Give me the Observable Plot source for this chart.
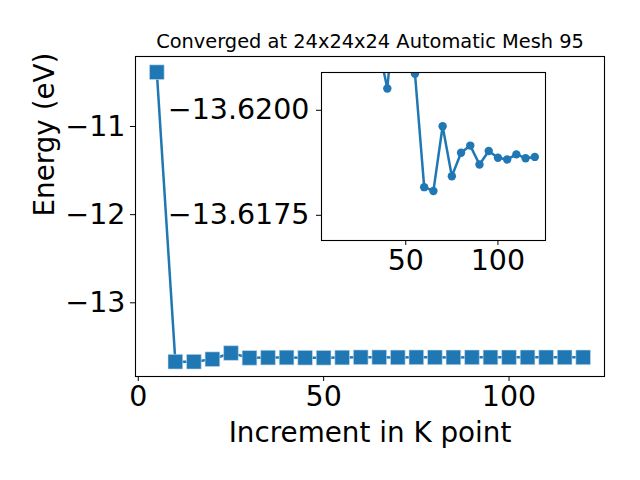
<!DOCTYPE html>
<html>
<head>
<meta charset="utf-8">
<script src="https://cdn.jsdelivr.net/npm/d3@7"></script>
<script src="https://cdn.jsdelivr.net/npm/@observablehq/plot@0.6"></script>
<style>
  html, body { margin: 0; padding: 0; background: white; }
  #chart { position: relative; width: 640px; height: 480px; }
  #chart svg { position: absolute; left: 0; top: 0; overflow: visible; }
</style>
</head>
<body>
<div id="chart"></div>
<script>
// ---- data ----
const titleText = "Converged at 24x24x24 Automatic Mesh 95";
const xLabel = "Increment in K point";
const yLabel = "Energy (eV)";
const kpoints = [5, 10, 15, 20, 25, 30, 35, 40, 45, 50, 55, 60, 65, 70, 75, 80, 85, 90, 95, 100, 105, 110, 115, 120];
const energy = [-10.384, -13.668, -13.668, -13.640, -13.570, -13.625, -13.62157, -13.62052, -13.6229, -13.6235,
  -13.62087, -13.61817, -13.61808, -13.61962, -13.61843, -13.61899, -13.61916, -13.61871, -13.61903,
  -13.61887, -13.61883, -13.61895, -13.61886, -13.61889];
const insetFirstIndex = 6; // inset shows the points from k = 35 onward
const xTicks = [0, 50, 100];
const yTicks = [-11, -12, -13];
const insetXTicks = [50, 100];
const insetYTicks = [-13.62, -13.6175];

const data = kpoints.map((k, i) => ({k, e: energy[i]}));
const insetData = data.slice(insetFirstIndex);

const blue = "#1f77b4";
const font = "DejaVu Sans, Verdana, sans-serif";
const tickFont = 28.5;

const main = Plot.plot({
  width: 640, height: 480,
  marginLeft: 135, marginRight: 36, marginTop: 56, marginBottom: 104,
  x: {domain: [-0.75, 125.75]},
  y: {domain: [-13.836, -10.206]},
  style: {fontFamily: font, fontSize: tickFont + "px", background: "transparent", color: "black"},
  marks: [
    Plot.line(data, {x: "k", y: "e", stroke: blue, strokeWidth: 2.5}),
    Plot.dot(data, {x: "k", y: "e", symbol: "square", r: 8.3, fill: blue, stroke: "#cfe0ef", strokeWidth: 0.6}),
    Plot.frame({stroke: "black", strokeWidth: 1.1}),
    Plot.axisX({ticks: xTicks, tickSize: 5, tickPadding: 4, tickFormat: d3.format("d"), label: null, fontSize: tickFont}),
    Plot.axisY({ticks: yTicks, tickSize: 5, tickPadding: 5, tickFormat: d3.format("d"), label: null, fontSize: tickFont}),
    Plot.text([titleText], {frameAnchor: "top", dy: -15, fontSize: 19.4, lineAnchor: "middle"}),
    Plot.text([xLabel], {frameAnchor: "bottom", dy: 57, fontSize: 27.8, lineAnchor: "middle"}),
    Plot.text([yLabel], {frameAnchor: "left", dx: -90, rotate: -90, fontSize: 27.8, lineAnchor: "middle"})
  ]
});

const inset = Plot.plot({
  width: 640, height: 480,
  marginLeft: 321, marginRight: 95, marginTop: 72, marginBottom: 240,
  x: {domain: [4.3, 125.8]},
  y: {domain: [-13.6169, -13.6209]},
  style: {fontFamily: font, fontSize: tickFont + "px", background: "transparent", color: "black"},
  marks: [
    Plot.frame({fill: "white", stroke: "none"}),
    Plot.line(insetData, {x: "k", y: "e", stroke: blue, strokeWidth: 2.5, clip: true}),
    Plot.dot(insetData, {x: "k", y: "e", r: 4.2, fill: blue, clip: true}),
    Plot.frame({stroke: "black", strokeWidth: 1.1}),
    Plot.axisX({ticks: insetXTicks, tickSize: 5, tickPadding: 4, tickFormat: d3.format("d"), label: null, fontSize: tickFont}),
    Plot.axisY({ticks: insetYTicks, tickSize: 5, tickPadding: 7, tickFormat: d3.format(".4f"), label: null, fontSize: tickFont})
  ]
});

const chart = document.getElementById("chart");
chart.appendChild(main);
chart.appendChild(inset);
</script>
</body>
</html>
